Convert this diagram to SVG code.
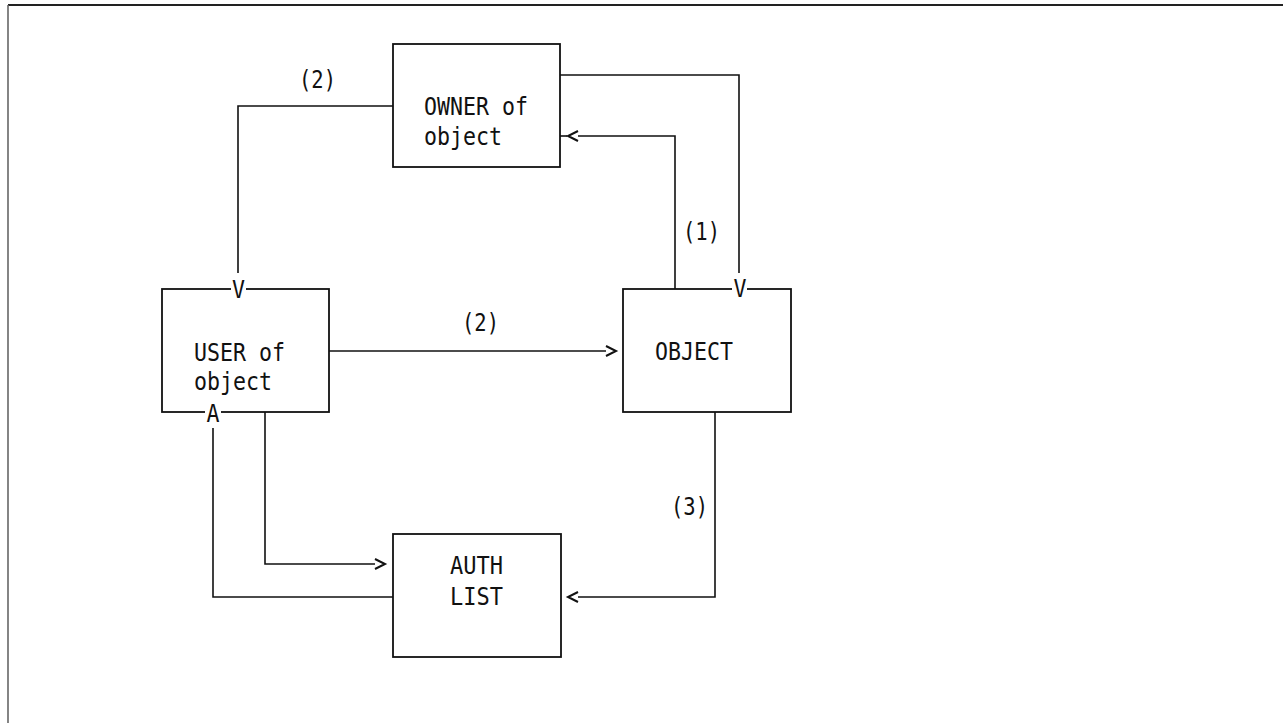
<svg xmlns="http://www.w3.org/2000/svg" width="1283" height="723" viewBox="0 0 1283 723">
<style>
.box{fill:#fff;stroke:#111;stroke-width:1.8}
.ln{fill:none;stroke:#111;stroke-width:1.6}
.t{font-family:"DejaVu Sans Mono","Liberation Mono",monospace;font-size:24px;fill:#111}
.mask{fill:#fff;stroke:none}
</style>
<defs>
<marker id="chev" markerUnits="userSpaceOnUse" markerWidth="14" markerHeight="14" refX="0" refY="5" orient="auto" overflow="visible">
<path d="M0,0 L10,5 L0,10" fill="none" stroke="#111" stroke-width="2"/>
</marker>
</defs>
<rect width="1283" height="723" fill="#fff"/>
<g id="frame">
<line x1="8" y1="5" x2="1283" y2="5" stroke="#222" stroke-width="2"/>
<line x1="8" y1="5" x2="8" y2="723" stroke="#666" stroke-width="1.6"/>
</g>
<g id="connectors">
<path class="ln" d="M393,106 H238 V273"/>
<path class="ln" d="M560,75 H739 V273"/>
<path class="ln" d="M675,289 V136 H578" marker-end="url(#chev)"/>
<path class="ln" d="M567,136 H560"/>
<path class="ln" d="M329,351 H606" marker-end="url(#chev)"/>
<path class="ln" d="M265,412 V564 H375" marker-end="url(#chev)"/>
<path class="ln" d="M393,597 H213 V428"/>
<path class="ln" d="M715,412 V597 H578" marker-end="url(#chev)"/>
<text class="t" x="299" y="88" textLength="37" lengthAdjust="spacingAndGlyphs">(2)</text>
<text class="t" x="462" y="331" textLength="37" lengthAdjust="spacingAndGlyphs">(2)</text>
<text class="t" x="683" y="240" textLength="37" lengthAdjust="spacingAndGlyphs">(1)</text>
<text class="t" x="671" y="515" textLength="37" lengthAdjust="spacingAndGlyphs">(3)</text>
</g>
<g id="owner">
<rect class="box" x="393" y="44" width="167" height="123"/>
<text class="t" x="424" y="115" textLength="104" lengthAdjust="spacingAndGlyphs">OWNER of</text>
<text class="t" x="424" y="145" textLength="78" lengthAdjust="spacingAndGlyphs">object</text>
</g>
<g id="user">
<rect class="box" x="162" y="289" width="167" height="123"/>
<text class="t" x="194" y="361" textLength="91" lengthAdjust="spacingAndGlyphs">USER of</text>
<text class="t" x="194" y="390" textLength="78" lengthAdjust="spacingAndGlyphs">object</text>
</g>
<g id="object">
<rect class="box" x="623" y="289" width="168" height="123"/>
<text class="t" x="655" y="360" textLength="78" lengthAdjust="spacingAndGlyphs">OBJECT</text>
</g>
<g id="authlist">
<rect class="box" x="393" y="534" width="168" height="123"/>
<text class="t" x="450" y="574" textLength="53" lengthAdjust="spacingAndGlyphs">AUTH</text>
<text class="t" x="450" y="605" textLength="53" lengthAdjust="spacingAndGlyphs">LIST</text>
</g>
<g id="arrowheads">
<rect class="mask" x="231" y="284" width="15" height="9"/>
<text class="t" x="238.5" y="298" text-anchor="middle" textLength="13" lengthAdjust="spacingAndGlyphs">V</text>
<rect class="mask" x="732" y="284" width="15" height="9"/>
<text class="t" x="740" y="297" text-anchor="middle" textLength="13" lengthAdjust="spacingAndGlyphs">V</text>
<rect class="mask" x="205" y="407" width="16" height="9"/>
<text class="t" x="213" y="422" text-anchor="middle" textLength="13" lengthAdjust="spacingAndGlyphs">A</text>
</g>
</svg>
